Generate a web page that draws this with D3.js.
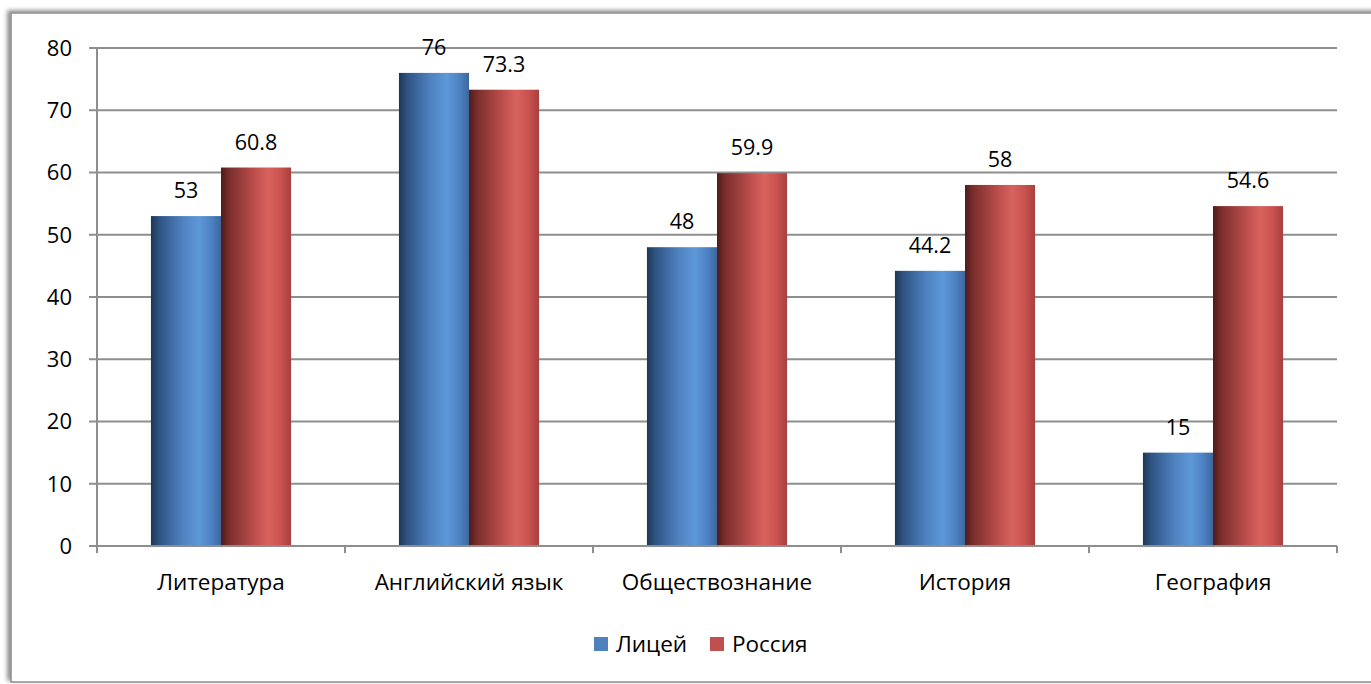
<!DOCTYPE html>
<html><head><meta charset="utf-8">
<script src="https://cdn.jsdelivr.net/npm/d3@7"></script>
<style>body{margin:0;background:#fff;} svg{display:block;font-family:"Open Sans",sans-serif;}</style>
</head><body>
<script>
const categories = ["Литература","Английский язык","Обществознание","История","География"];
const seriesNames = ["Лицей","Россия"];
const liceyValues = [53,76,48,44.2,15];
const russiaValues = [60.8,73.3,59.9,58,54.6];
const yTicks = [0,10,20,30,40,50,60,70,80];

const W=1371,H=684;
const svg=d3.select("body").append("svg").attr("width",W).attr("height",H);
const defs=svg.append("defs");
const f=defs.append("filter").attr("id","sh").attr("x","-5%").attr("y","-5%").attr("width","110%").attr("height","110%");
f.append("feDropShadow").attr("dx",-3).attr("dy",-2).attr("stdDeviation",2).attr("flood-color","#000").attr("flood-opacity",0.45);

function grad(id,stops){
  const g=defs.append("linearGradient").attr("id",id).attr("x1","0").attr("x2","1").attr("y1","0").attr("y2","0");
  stops.forEach(s=>g.append("stop").attr("offset",s[0]).attr("stop-color",s[1]));
}
grad("gBlue",[[0,"#1e3656"],[0.12,"#2f5382"],[0.45,"#4f82c0"],[0.68,"#5d98d8"],[0.85,"#4f84c4"],[1,"#3c679e"]]);
grad("gRed",[[0,"#4f1b1a"],[0.12,"#7a2e2c"],[0.45,"#b84c49"],[0.68,"#d9625f"],[0.85,"#c9524f"],[1,"#a8403e"]]);

svg.append("rect").attr("x",11).attr("y",13).attr("width",1380).attr("height",669)
  .attr("fill","#fff").attr("stroke","#8c8c8c").attr("stroke-width",1.5).attr("filter","url(#sh)");

const x0=97,x1=1337,yTop=48,yBot=546;
const x=d3.scaleBand().domain(categories).range([x0,x1]).paddingInner(0).paddingOuter(0);
const xs=d3.scaleBand().domain(seriesNames).range([0,x.bandwidth()]).paddingInner(0).paddingOuter(0.77);
const y=d3.scaleLinear().domain([0,80]).range([yBot,yTop]);

svg.append("g").selectAll("line").data(yTicks).join("line")
  .attr("x1",x0-8).attr("x2",x1).attr("y1",d=>y(d)).attr("y2",d=>y(d))
  .attr("stroke","#8e8e8e").attr("stroke-width",2);
svg.append("line").attr("x1",x0).attr("x2",x0).attr("y1",yTop).attr("y2",yBot+7).attr("stroke","#8e8e8e").attr("stroke-width",2);
svg.append("g").selectAll("text").data(yTicks).join("text")
  .attr("x",72).attr("y",d=>y(d)).attr("dy","0.36em").attr("text-anchor","end")
  .attr("font-size",22).attr("fill","#000").text(d=>d);
const bounds=categories.map(c=>x(c)).concat([x1]);
svg.append("g").selectAll("line").data(bounds).join("line")
  .attr("x1",d=>d).attr("x2",d=>d).attr("y1",yBot).attr("y2",yBot+7)
  .attr("stroke","#8e8e8e").attr("stroke-width",2);

const data=[liceyValues,russiaValues];
const fills=["url(#gBlue)","url(#gRed)"];
seriesNames.forEach((s,si)=>{
  const g=svg.append("g");
  g.selectAll("rect").data(categories).join("rect")
    .attr("x",c=>x(c)+xs(s)).attr("width",xs.bandwidth())
    .attr("y",(c,i)=>y(data[si][i])).attr("height",(c,i)=>yBot-y(data[si][i]))
    .attr("fill",fills[si]);
  g.selectAll("text").data(categories).join("text")
    .attr("x",c=>x(c)+xs(s)+xs.bandwidth()/2).attr("y",(c,i)=>y(data[si][i])-18)
    .attr("text-anchor","middle").attr("font-size",21.5).attr("fill","#000")
    .text((c,i)=>data[si][i]);
});
svg.append("line").attr("x1",x0).attr("x2",x1).attr("y1",yBot).attr("y2",yBot).attr("stroke","#8e8e8e").attr("stroke-width",2);

svg.append("g").selectAll("text").data(categories).join("text")
  .attr("x",c=>x(c)+x.bandwidth()/2).attr("y",590).attr("text-anchor","middle")
  .attr("font-size",22.5).attr("fill","#000").text(c=>c);

const legX=[594,710], legC=["#4f81bd","#c0504d"];
seriesNames.forEach((s,i)=>{
  svg.append("rect").attr("x",legX[i]).attr("y",637).attr("width",14).attr("height",14).attr("fill",legC[i]);
  svg.append("text").attr("x",legX[i]+22).attr("y",644).attr("dy","0.36em").attr("font-size",22.5).attr("fill","#000").text(s);
});
</script>
</body></html>
